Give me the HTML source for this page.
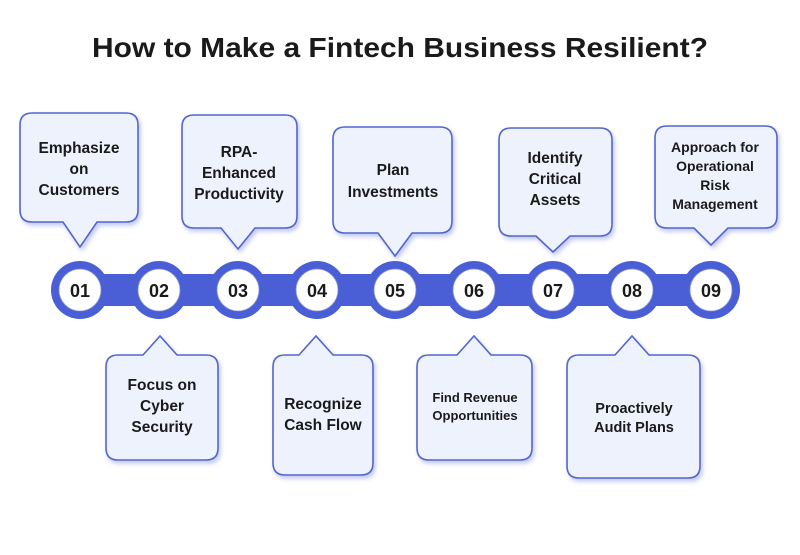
<!DOCTYPE html>
<html><head><style>
body{margin:0;background:#fff;}
text{font-family:"Liberation Sans",sans-serif;fill:#1a1a1a;}
</style></head><body>
<svg width="800" height="550" viewBox="0 0 800 550" xmlns="http://www.w3.org/2000/svg">
<defs>
<filter id="sh" x="-20%" y="-20%" width="140%" height="140%"><feDropShadow dx="2" dy="3" stdDeviation="2" flood-color="#5468d4" flood-opacity="0.35"/></filter>
</defs>
<text x="92" y="57" font-size="28" font-weight="bold" fill="#000" textLength="616" lengthAdjust="spacingAndGlyphs">How to Make a Fintech Business Resilient?</text>
<g fill="#eef2fd" stroke="#5166cf" stroke-width="1.6" filter="url(#sh)">
<path d="M32 113 H126 Q138 113 138 125 V210 Q138 222 126 222 H97 L80 247 L63 222 H32 Q20 222 20 210 V125 Q20 113 32 113Z"/>
<path d="M194 115 H285 Q297 115 297 127 V216 Q297 228 285 228 H255 L238 249 L221 228 H194 Q182 228 182 216 V127 Q182 115 194 115Z"/>
<path d="M345 127 H440 Q452 127 452 139 V221 Q452 233 440 233 H412 L395 256 L378 233 H345 Q333 233 333 221 V139 Q333 127 345 127Z"/>
<path d="M511 128 H600 Q612 128 612 140 V224 Q612 236 600 236 H570 L553 252 L536 236 H511 Q499 236 499 224 V140 Q499 128 511 128Z"/>
<path d="M667 126 H765 Q777 126 777 138 V216 Q777 228 765 228 H728 L711 245 L694 228 H667 Q655 228 655 216 V138 Q655 126 667 126Z"/>
<path d="M118 355 H143 L160 336 L177 355 H206 Q218 355 218 367 V448 Q218 460 206 460 H118 Q106 460 106 448 V367 Q106 355 118 355Z"/>
<path d="M285 355 H299 L316 336 L333 355 H361 Q373 355 373 367 V463 Q373 475 361 475 H285 Q273 475 273 463 V367 Q273 355 285 355Z"/>
<path d="M429 355 H457 L474 336 L491 355 H520 Q532 355 532 367 V448 Q532 460 520 460 H429 Q417 460 417 448 V367 Q417 355 429 355Z"/>
<path d="M579 355 H615 L632 336 L649 355 H688 Q700 355 700 367 V466 Q700 478 688 478 H579 Q567 478 567 466 V367 Q567 355 579 355Z"/>
</g>
<g font-size="15.5" text-anchor="middle" font-weight="bold" fill="#222">
<text x="79" y="153">Emphasize</text><text x="79" y="174">on</text><text x="79" y="195">Customers</text>
<text x="239" y="157">RPA-</text><text x="239" y="178">Enhanced</text><text x="239" y="199">Productivity</text>
<text x="393" y="175">Plan</text><text x="393" y="197">Investments</text>
<text x="555" y="163">Identify</text><text x="555" y="184">Critical</text><text x="555" y="205">Assets</text>
<text x="715" y="152" font-size="14">Approach for</text><text x="715" y="171" font-size="14">Operational</text><text x="715" y="190" font-size="14">Risk</text><text x="715" y="209" font-size="14">Management</text>
<text x="162" y="390">Focus on</text><text x="162" y="411">Cyber</text><text x="162" y="432">Security</text>
<text x="323" y="409">Recognize</text><text x="323" y="430">Cash Flow</text>
<text x="475" y="402" font-size="13">Find Revenue</text><text x="475" y="420" font-size="13">Opportunities</text>
<text x="634" y="413" font-size="14.5">Proactively</text><text x="634" y="432" font-size="14.5">Audit Plans</text>
</g>
<rect x="70" y="274" width="652" height="32" fill="#4a5fd6"/>
<g fill="#4a5fd6">
<circle cx="80" cy="290" r="29"/><circle cx="159" cy="290" r="29"/><circle cx="238" cy="290" r="29"/><circle cx="317" cy="290" r="29"/><circle cx="395" cy="290" r="29"/><circle cx="474" cy="290" r="29"/><circle cx="553" cy="290" r="29"/><circle cx="632" cy="290" r="29"/><circle cx="711" cy="290" r="29"/>
</g>
<g fill="#fff" stroke="#8a96d8" stroke-width="0.8">
<circle cx="80" cy="290" r="21"/><circle cx="159" cy="290" r="21"/><circle cx="238" cy="290" r="21"/><circle cx="317" cy="290" r="21"/><circle cx="395" cy="290" r="21"/><circle cx="474" cy="290" r="21"/><circle cx="553" cy="290" r="21"/><circle cx="632" cy="290" r="21"/><circle cx="711" cy="290" r="21"/>
</g>
<g font-size="18" font-weight="bold" text-anchor="middle" fill="#000">
<text x="80" y="297">01</text><text x="159" y="297">02</text><text x="238" y="297">03</text><text x="317" y="297">04</text><text x="395" y="297">05</text><text x="474" y="297">06</text><text x="553" y="297">07</text><text x="632" y="297">08</text><text x="711" y="297">09</text>
</g>
</svg>
</body></html>
